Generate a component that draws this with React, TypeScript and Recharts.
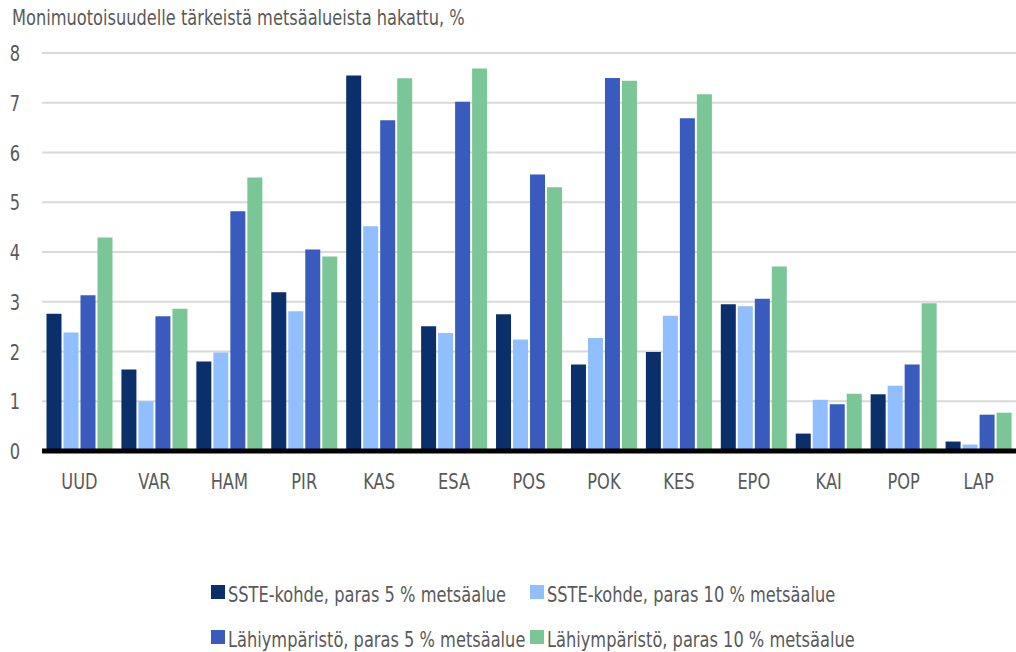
import React from 'react';
import { BarChart, Bar, XAxis, YAxis, CartesianGrid } from 'recharts';

const regions = ['UUD', 'VAR', 'HAM', 'PIR', 'KAS', 'ESA', 'POS', 'POK', 'KES', 'EPO', 'KAI', 'POP', 'LAP'];
const sste5 = [2.76, 1.64, 1.8, 3.19, 7.55, 2.51, 2.75, 1.74, 1.99, 2.95, 0.35, 1.14, 0.19];
const sste10 = [2.38, 1.0, 1.98, 2.81, 4.52, 2.37, 2.24, 2.27, 2.72, 2.91, 1.03, 1.31, 0.13];
const lahi5 = [3.13, 2.71, 4.82, 4.05, 6.65, 7.02, 5.56, 7.5, 6.69, 3.06, 0.94, 1.74, 0.73];
const lahi10 = [4.29, 2.86, 5.5, 3.91, 7.49, 7.69, 5.3, 7.44, 7.17, 3.71, 1.15, 2.97, 0.77];
const yTicks = [0, 1, 2, 3, 4, 5, 6, 7, 8];

const series = [
    { key: 'sste5', name: 'SSTE-kohde, paras 5 % metsäalue', color: '#0B2F6B' },
    { key: 'sste10', name: 'SSTE-kohde, paras 10 % metsäalue', color: '#91BEFF' },
    { key: 'lahi5', name: 'Lähiympäristö, paras 5 % metsäalue', color: '#395BBE' },
    { key: 'lahi10', name: 'Lähiympäristö, paras 10 % metsäalue', color: '#7BC697' },
];

const data = regions.map((r, i) => ({
    region: r,
    sste5: sste5[i],
    sste10: sste10[i],
    lahi5: lahi5[i],
    lahi10: lahi10[i],
}));

// no condensed Myriad available, so squeeze DejaVu Condensed horizontally
const FONT = '"DejaVu Sans Condensed", "DejaVu Sans", sans-serif';
const TEXT = '#595959';
const SQUEEZE = 0.82;

const YTick = (props: any) => {
    const { y, payload } = props;
    return (
        <g transform={`translate(15,${y}) scale(${SQUEEZE},1)`}>
            <text x={0} y={0} dy={8} textAnchor="middle" fill={TEXT} fontSize={22} fontFamily={FONT}>
                {payload.value}
            </text>
        </g>
    );
};

const XTick = (props: any) => {
    const { x, y, payload } = props;
    return (
        <g transform={`translate(${x},${y}) scale(${SQUEEZE},1)`}>
            <text x={0} y={0} dy={30} textAnchor="middle" fill={TEXT} fontSize={22} fontFamily={FONT}>
                {payload.value}
            </text>
        </g>
    );
};

const Overlay = () => (
    <svg
        width={1016}
        height={652}
        style={{ position: 'absolute', left: 0, top: 0, pointerEvents: 'none' }}
    >
        <g transform={`translate(12,25) scale(${SQUEEZE},1)`}>
            <text x={0} y={0} fill={TEXT} fontSize={22} fontFamily={FONT}>
                Monimuotoisuudelle tärkeistä metsäalueista hakattu, %
            </text>
        </g>
        {series.map((s, i) => {
            const col = i % 2;
            const row = Math.floor(i / 2);
            const sx = col === 0 ? 211 : 530;
            const top = row === 0 ? 585 : 630;
            return (
                <g key={s.key}>
                    <rect x={sx} y={top} width={14} height={14} fill={s.color} />
                    <g transform={`translate(${sx + 17},${top + 17}) scale(${SQUEEZE},1)`}>
                        <text x={0} y={0} fill={TEXT} fontSize={22} fontFamily={FONT}>
                            {s.name}
                        </text>
                    </g>
                </g>
            );
        })}
    </svg>
);

export default function App() {
    return (
        <div style={{ position: 'fixed', left: 0, top: 0, width: 1016, height: 652, background: '#fff' }}>
            <BarChart
                width={1016}
                height={652}
                data={data}
                margin={{ top: 53, right: 0, left: 0, bottom: 0 }}
                barCategoryGap={4.5}
                barGap={2}
            >
                <CartesianGrid vertical={false} stroke="#d9d9d9" strokeWidth={2} />
                <XAxis
                    dataKey="region"
                    height={201}
                    axisLine={{ stroke: '#000', strokeWidth: 5 }}
                    tickLine={false}
                    tick={<XTick />}
                    interval={0}
                />
                <YAxis
                    width={42}
                    domain={[0, 8]}
                    ticks={yTicks}
                    axisLine={false}
                    tickLine={false}
                    tick={<YTick />}
                />
                {series.map((s) => (
                    <Bar key={s.key} dataKey={s.key} name={s.name} fill={s.color} isAnimationActive={false} />
                ))}
            </BarChart>
            <Overlay />
        </div>
    );
}
